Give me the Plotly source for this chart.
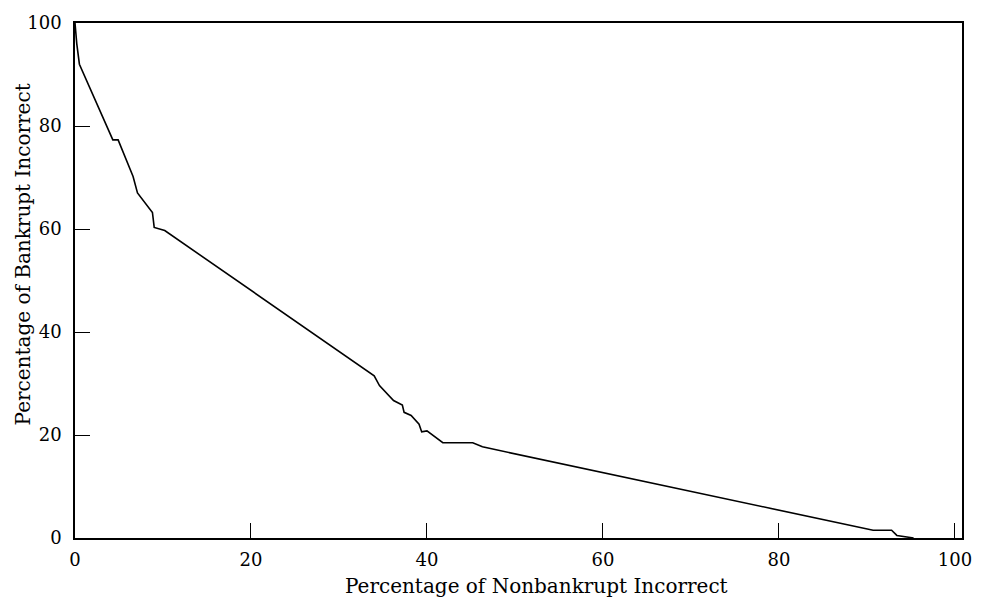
import plotly.graph_objects as go

nonbankrupt_incorrect = [0, 0.2, 0.5, 4.3, 4.9, 6.6, 7.1, 8.8, 9.0, 10.2, 34.0, 34.6, 36.2, 37.2,
                         37.4, 38.2, 39.1, 39.4, 40.0, 41.8, 45.2, 46.3, 90.7, 92.8, 93.4, 95.3]
bankrupt_incorrect = [100, 96, 92, 77.3, 77.3, 70.2, 67.0, 63.2, 60.3, 59.7, 31.5, 29.6, 26.7, 25.8,
                      24.4, 23.8, 22.1, 20.6, 20.8, 18.5, 18.5, 17.7, 1.5, 1.5, 0.5, 0]

tick_vals = [0, 20, 40, 60, 80, 100]
x_title = "Percentage of Nonbankrupt Incorrect"
y_title = "Percentage of Bankrupt Incorrect"

FONT = "DejaVu Serif"

fig = go.Figure()
fig.add_trace(go.Scatter(
    x=nonbankrupt_incorrect, y=bankrupt_incorrect, mode="lines",
    line=dict(color="black", width=1.6), showlegend=False, hoverinfo="skip",
))

axis_common = dict(
    showgrid=False, zeroline=False, showline=True, linecolor="black", linewidth=1.5,
    mirror=True, ticks="inside", ticklen=15, tickwidth=1.3, tickcolor="black",
    tickvals=tick_vals, ticktext=[str(v) for v in tick_vals],
    tickfont=dict(family=FONT, size=18, color="black"),
)

fig.update_layout(
    width=984, height=601,
    margin=dict(l=75, r=17, t=14, b=63),
    paper_bgcolor="white", plot_bgcolor="white",
    xaxis=dict(range=[0, 100.8], ticklabelstandoff=5, **axis_common),
    yaxis=dict(range=[0, 100], ticklabelstandoff=8, **axis_common),
    annotations=[
        dict(text=x_title, xref="paper", yref="paper", x=0.52, y=-0.094,
             xanchor="center", yanchor="middle", showarrow=False,
             font=dict(family=FONT, size=20, color="black")),
        dict(text=y_title, xref="paper", yref="paper", x=-0.059, y=0.55,
             xanchor="center", yanchor="middle", showarrow=False, textangle=-90,
             font=dict(family=FONT, size=20, color="black")),
    ],
)

# remove the default page margin so the figure fills the window exactly
fig.write_html("out.html",
               config={"displayModeBar": False},
               post_script="document.body.style.margin='0px';document.body.style.overflow='hidden';")
